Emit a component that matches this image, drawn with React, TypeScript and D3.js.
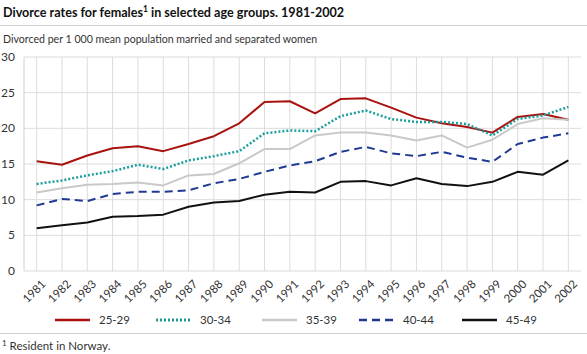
import React from 'react';
import * as d3 from 'd3';

const years = ['1981', '1982', '1983', '1984', '1985', '1986', '1987', '1988', '1989', '1990', '1991',
  '1992', '1993', '1994', '1995', '1996', '1997', '1998', '1999', '2000', '2001', '2002'];

const age2529 = [15.4, 14.9, 16.2, 17.2, 17.5, 16.8, 17.8, 18.9, 20.7, 23.7, 23.8,
  22.1, 24.1, 24.2, 22.9, 21.5, 20.7, 20.2, 19.4, 21.6, 22.0, 21.2];
const age3034 = [12.2, 12.7, 13.4, 14.0, 14.9, 14.3, 15.5, 16.1, 16.8, 19.3, 19.7,
  19.6, 21.7, 22.5, 21.3, 20.9, 20.9, 20.6, 19.0, 21.3, 21.8, 23.0];
const age3539 = [11.0, 11.6, 12.1, 12.2, 12.4, 12.0, 13.4, 13.6, 15.1, 17.1, 17.1,
  19.0, 19.4, 19.4, 19.0, 18.3, 19.0, 17.3, 18.4, 20.6, 21.4, 21.2];
const age4044 = [9.2, 10.1, 9.8, 10.8, 11.1, 11.1, 11.3, 12.3, 12.9, 13.9, 14.8,
  15.4, 16.7, 17.4, 16.5, 16.1, 16.7, 15.9, 15.3, 17.8, 18.7, 19.3];
const age4549 = [6.0, 6.4, 6.8, 7.6, 7.7, 7.9, 9.0, 9.6, 9.8, 10.7, 11.1,
  11.0, 12.5, 12.6, 12.0, 13.0, 12.2, 11.9, 12.5, 13.9, 13.5, 15.5];

const yTicks = [0, 5, 10, 15, 20, 25, 30];

const series = [
  { name: '25-29', values: age2529, color: '#a8130f', dash: '', width: 2 },
  { name: '30-34', values: age3034, color: '#1a9e9c', dash: '2,2', width: 2.5 },
  { name: '35-39', values: age3539, color: '#c9c9c9', dash: '', width: 2 },
  { name: '40-44', values: age4044, color: '#1f3a93', dash: '8,5', width: 2 },
  { name: '45-49', values: age4549, color: '#111111', dash: '', width: 2 },
];

const font = 'Lato, "DejaVu Sans", sans-serif';

export default function App() {
  const width = 587;
  const height = 354;
  const left = 24;
  const right = 581;
  const top = 57;
  const bottom = 271;

  const x = d3.scaleBand().domain(years).range([left, right]);
  const y = d3.scaleLinear().domain([0, 30]).range([bottom, top]);
  const cx = (yr: string) => (x(yr) ?? 0) + x.bandwidth() / 2;

  const line = d3.line<number>()
    .x((d, i) => cx(years[i]))
    .y(d => y(d));

  const legendX = [55, 156, 262, 359, 462];

  return (
    <svg width={width} height={height}
      style={{ position: 'absolute', left: 0, top: 0, fontFamily: font }}>
      <rect width={width} height={height} fill="#fff" />
      <text x={3} y={17} fontSize={12.6} fontWeight="bold" fill="#111">
        Divorce rates for females<tspan fontSize={8.5} dy={-5}>1</tspan>
        <tspan dy={5}> in selected age groups. 1981-2002</tspan>
      </text>
      <line x1={0} x2={width} y1={25.5} y2={25.5} stroke="#d0d0d0" />
      <text x={3} y={43} fontSize={10.6} fill="#333">
        Divorced per 1 000 mean population married and separated women
      </text>

      {yTicks.map(t => (
        <g key={t}>
          <line x1={left} x2={right} y1={y(t)} y2={y(t)} stroke="#dcdcdc" strokeWidth={1} />
          <text x={15} y={y(t) + 4} fontSize={12} textAnchor="end" fill="#333">{t}</text>
        </g>
      ))}
      {years.map(yr => (
        <g key={yr}>
          <line x1={cx(yr)} x2={cx(yr)} y1={top} y2={bottom} stroke="#dcdcdc" strokeWidth={1} />
          <text transform={`translate(${cx(yr) + 4},${bottom + 8}) rotate(-45)`}
            fontSize={11.5} textAnchor="end" dy="0.7em" fill="#333">{yr}</text>
        </g>
      ))}
      <line x1={left} x2={left} y1={top} y2={bottom} stroke="#d0d0d0" />

      {series.map(s => (
        <path key={s.name} d={line(s.values) ?? ''} fill="none" stroke={s.color}
          strokeWidth={s.width} strokeDasharray={s.dash} strokeLinejoin="round" />
      ))}

      {series.map((s, i) => (
        <g key={s.name} transform={`translate(${legendX[i]},320)`}>
          <line x1={0} x2={35} y1={0} y2={0} stroke={s.color} strokeWidth={s.width + 0.5}
            strokeDasharray={s.dash} />
          <text x={44} y={4} fontSize={11.5} fill="#333">{s.name}</text>
        </g>
      ))}

      <line x1={0} x2={width} y1={333.5} y2={333.5} stroke="#d0d0d0" />
      <text x={2} y={350} fontSize={11.5} fill="#333">
        <tspan fontSize={8} dy={-4}>1</tspan>
        <tspan dy={4}> Resident in Norway.</tspan>
      </text>
    </svg>
  );
}
